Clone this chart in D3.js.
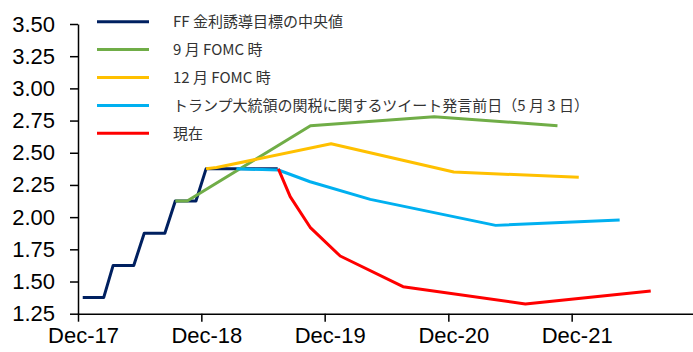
<!DOCTYPE html>
<html>
<head>
<meta charset="utf-8">
<script src="https://cdn.jsdelivr.net/npm/d3@7"></script>
<style>
  html, body { margin: 0; padding: 0; background: #fff; }
  svg { display: block; }
</style>
</head>
<body>
<svg id="chart" width="693" height="352"></svg>
<script>
// ---- data ----
const seriesNames = ["FF 金利誘導目標の中央値", "9 月 FOMC 時", "12 月 FOMC 時", "トランプ大統領の関税に関するツイート発言前日（5 月 3 日）", "現在"];
const seriesColors = ["#002060", "#70AD47", "#FFC000", "#00B0F0", "#FF0000"];

const ffDates = ["2017-12-15","2018-01-15","2018-02-15","2018-03-15","2018-04-15","2018-05-15","2018-06-15","2018-07-15","2018-08-15","2018-09-15","2018-10-15","2018-11-15","2018-12-15","2019-01-15","2019-02-15","2019-03-15","2019-04-15","2019-05-15","2019-06-15","2019-07-15"];
const ffValues = [1.375,1.375,1.375,1.625,1.625,1.625,1.875,1.875,1.875,2.125,2.125,2.125,2.375,2.375,2.375,2.375,2.375,2.375,2.375,2.375];

const sepDates = ["2018-09-15","2018-10-20","2019-10-20","2020-10-20","2021-10-20"];
const sepValues = [2.125, 2.125, 2.71, 2.78, 2.71];

const decDates = ["2018-12-15","2019-01-15","2019-12-20","2020-12-17","2021-12-22"];
const decValues = [2.375, 2.385, 2.57, 2.35, 2.31];

const mayDates = ["2019-03-15","2019-07-17","2019-10-19","2020-04-14","2021-04-20","2022-04-22"];
const mayValues = [2.375, 2.366, 2.275, 2.138, 1.936, 1.978];

const nowDates = ["2019-07-17","2019-08-21","2019-10-19","2020-01-16","2020-07-20","2021-07-17","2022-07-23"];
const nowValues = [2.375, 2.159, 1.921, 1.698, 1.46, 1.325, 1.426];

const yTicks = [1.25, 1.50, 1.75, 2.00, 2.25, 2.50, 2.75, 3.00, 3.25, 3.50];
const xTickDates = ["2017-12-01","2018-12-01","2019-12-01","2020-12-01","2021-12-01"];
const xTickLabels = ["Dec-17","Dec-18","Dec-19","Dec-20","Dec-21"];

// ---- drawing ----
const parse = d3.timeParse("%Y-%m-%d");
const svg = d3.select("#chart");

const x = d3.scaleTime()
  .domain([parse("2017-12-01"), parse("2022-12-01")])
  .range([78, 695]);
const y = d3.scaleLinear().domain([1.25, 3.5]).range([313.7, 24]);

// axes
const yAxis = d3.axisLeft(y).tickValues(yTicks).tickFormat(d3.format(".2f")).tickSize(8).tickSizeOuter(0).tickPadding(15);
const gy = svg.append("g").attr("transform", "translate(78,0)").call(yAxis);
gy.selectAll("text").attr("font-family", "'Liberation Sans', Arial, sans-serif").attr("font-size", 22).attr("fill", "#000");
gy.selectAll("line, path").attr("stroke", "#000").attr("stroke-width", 1.5);

const xAxis = d3.axisBottom(x).tickValues(xTickDates.map(parse))
  .tickFormat((d, i) => xTickLabels[i]).tickSize(8).tickSizeOuter(0).tickPadding(6);
const gx = svg.append("g").attr("transform", "translate(0,313.7)").call(xAxis);
gx.select("path.domain").attr("d", "M78,0.5H693");
gx.selectAll("text").attr("font-family", "'Liberation Sans', Arial, sans-serif").attr("font-size", 22).attr("fill", "#000").attr("dx", 5);
gx.selectAll("line, path").attr("stroke", "#000").attr("stroke-width", 1.5);

// lines
const line = d3.line().x(d => x(d[0])).y(d => y(d[1]));
const series = [
  [ffDates, ffValues],
  [sepDates, sepValues],
  [decDates, decValues],
  [mayDates, mayValues],
  [nowDates, nowValues]
];
series.forEach((s, i) => {
  const pts = s[0].map((d, j) => [parse(d), s[1][j]]);
  svg.append("path")
    .attr("d", line(pts))
    .attr("fill", "none")
    .attr("stroke", seriesColors[i])
    .attr("stroke-width", 3)
    .attr("stroke-linejoin", "round");
});

// legend
const lg = svg.append("g");
seriesNames.forEach((name, i) => {
  const yy = 21.7 + i * 27.9;
  lg.append("line").attr("x1", 97).attr("x2", 149).attr("y1", yy).attr("y2", yy)
    .attr("stroke", seriesColors[i]).attr("stroke-width", 3);
  lg.append("text").attr("x", 173).attr("y", yy).attr("dy", "0.35em")
    .attr("font-family", "'Noto Sans CJK JP', 'Noto Sans', sans-serif")
    .attr("font-size", 15).attr("fill", "#333").text(name);
});
</script>
</body>
</html>
